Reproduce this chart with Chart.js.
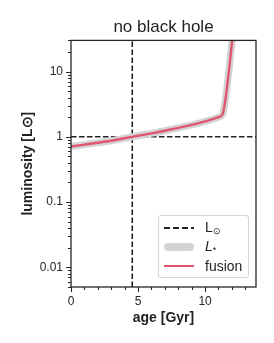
<!DOCTYPE html>
<html>
<head>
<meta charset="utf-8">
<script src="https://cdn.jsdelivr.net/npm/chart.js@4"></script>
<style>
  html, body { margin: 0; padding: 0; background: #fff; }
  #wrap { position: relative; width: 274px; height: 343px; }
  canvas { display: block; }
  #legend {
    position: absolute; left: 158px; top: 215px; width: 89px; height: 61px;
    border: 1px solid #d6d6d6; border-radius: 3px; background: rgba(255,255,255,0.85);
    font-family: "Liberation Sans", Arial, sans-serif; font-size: 14px; color: #222;
  }
  .row { position: absolute; left: 0; height: 18px; width: 100%; }
  .sw { position: absolute; left: 5px; width: 30px; top: 50%; }
  .lab { position: absolute; left: 46px; top: 50%; transform: translateY(-50%); line-height: 1; white-space: nowrap; }
  .lab sub { font-size: 9px; vertical-align: -2px; }
</style>
</head>
<body>
<div id="wrap">
  <canvas id="c" width="274" height="343"></canvas>
  <div id="legend">
    <div class="row" style="top:3px"><div class="sw" style="height:1.6px;margin-top:-0.8px;background:repeating-linear-gradient(90deg,#222 0 6px,transparent 6px 9px);"></div><div class="lab">L<sub>⊙</sub></div></div>
    <div class="row" style="top:22px"><div class="sw" style="height:8px;margin-top:-4px;background:#d3d3d3;border-radius:4px;"></div><div class="lab"><i>L</i><sub>*</sub></div></div>
    <div class="row" style="top:41px"><div class="sw" style="height:2.6px;margin-top:-1.3px;background:#e0566f;"></div><div class="lab">fusion</div></div>
  </div>
</div>
<script>
// ---- data ----
const age = [0, 1, 2, 3, 4, 4.57, 5, 6, 7, 8, 9, 10, 11, 11.3, 11.45, 11.6, 11.8, 12.0, 12.15];
const lumStar = [0.71, 0.76, 0.81, 0.87, 0.95, 1.0, 1.04, 1.13, 1.24, 1.37, 1.52, 1.72, 2.0, 2.2, 3.0, 5.0, 11, 27, 45];
const lumFusion = [0.71, 0.76, 0.81, 0.87, 0.95, 1.0, 1.04, 1.13, 1.24, 1.37, 1.52, 1.72, 2.0, 2.2, 3.0, 5.0, 11, 27, 45];
const sunAge = 4.57;
const sunLum = 1;
const xTicks = [0, 5, 10];
const yTicks = [0.01, 0.1, 1, 10];
const xRange = [0, 13.8];
const yRange = [0.005, 30];

const FONT = '"Liberation Sans", Arial, sans-serif';
const INK = '#262626';

const toXY = (xs, ys) => xs.map((x, i) => ({ x, y: ys[i] }));

const frame = {
  id: 'frame',
  afterDraw(chart) {
    const { ctx, chartArea: a, scales } = chart;
    const xs = scales.x, ys = scales.y;
    ctx.save();
    ctx.strokeStyle = INK;
    ctx.lineWidth = 1.3;
    ctx.strokeRect(a.left, a.top, a.right - a.left, a.bottom - a.top);
    ctx.lineWidth = 1.1;
    ctx.beginPath();
    for (let v = Math.ceil(xRange[0]); v <= xRange[1]; v++) {
      const px = Math.round(xs.getPixelForValue(v)) + 0.5;
      const len = (v % 5 === 0) ? 5 : 3;
      ctx.moveTo(px, a.bottom); ctx.lineTo(px, a.bottom + len);
    }
    for (let e = -3; e <= 2; e++) {
      for (let m = 1; m <= 9; m++) {
        const v = m * Math.pow(10, e);
        if (v < yRange[0] || v > yRange[1]) continue;
        const py = Math.round(ys.getPixelForValue(v)) + 0.5;
        const len = m === 1 ? 5 : 3;
        ctx.moveTo(a.left, py); ctx.lineTo(a.left - len, py);
      }
    }
    ctx.stroke();
    ctx.restore();
  }
};

new Chart(document.getElementById('c'), {
  type: 'line',
  data: {
    datasets: [
      { label: 'fusion', data: toXY(age, lumFusion), borderColor: '#e0566f', borderWidth: 2.4, pointRadius: 0, cubicInterpolationMode: 'monotone' },
      { label: 'L*', data: toXY(age, lumStar), borderColor: '#d3d3d3', borderWidth: 7, pointRadius: 0, cubicInterpolationMode: 'monotone', borderCapStyle: 'round', borderJoinStyle: 'round' },
      { label: 'Lsun', data: toXY(xRange, [sunLum, sunLum]), borderColor: '#222', borderWidth: 1.6, borderDash: [5.5, 2.5], pointRadius: 0 },
      { label: 'sunAge', data: toXY([sunAge, sunAge], yRange), borderColor: '#222', borderWidth: 1.6, borderDash: [5.5, 2.5], pointRadius: 0 }
    ]
  },
  options: {
    responsive: false,
    animation: false,
    devicePixelRatio: 1,
    layout: { padding: { left: 0, right: 18, top: 0, bottom: 0 } },
    plugins: {
      legend: { display: false },
      tooltip: { enabled: false },
      title: {
        display: true, text: 'no black hole', fullSize: false,
        color: '#222', font: { family: FONT, size: 17, weight: 'normal' },
        padding: { top: 17, bottom: 3 }
      }
    },
    scales: {
      x: {
        type: 'linear', min: xRange[0], max: xRange[1],
        afterBuildTicks: s => { s.ticks = xTicks.map(v => ({ value: v })); },
        afterFit: s => { s.height = 56; },
        grid: { display: false, drawTicks: false },
        border: { display: false },
        ticks: { color: INK, font: { family: FONT, size: 12 }, padding: 7, autoSkip: false, maxRotation: 0 },
        title: { display: true, text: 'age [Gyr]', color: '#222', font: { family: FONT, size: 14, weight: 'bold' }, padding: { top: 4, bottom: 16 } }
      },
      y: {
        type: 'logarithmic', min: yRange[0], max: yRange[1],
        afterBuildTicks: s => { s.ticks = yTicks.map(v => ({ value: v })); },
        afterFit: s => { s.width = 71; },
        grid: { display: false, drawTicks: false },
        border: { display: false },
        ticks: { color: INK, font: { family: FONT, size: 12 }, padding: 8, autoSkip: false, callback: v => String(v) },
        title: { display: true, text: 'luminosity [L⊙]', color: '#222', font: { family: FONT, size: 14, weight: 'bold' }, padding: { top: 20 } }
      }
    }
  },
  plugins: [frame]
});
</script>
</body>
</html>
